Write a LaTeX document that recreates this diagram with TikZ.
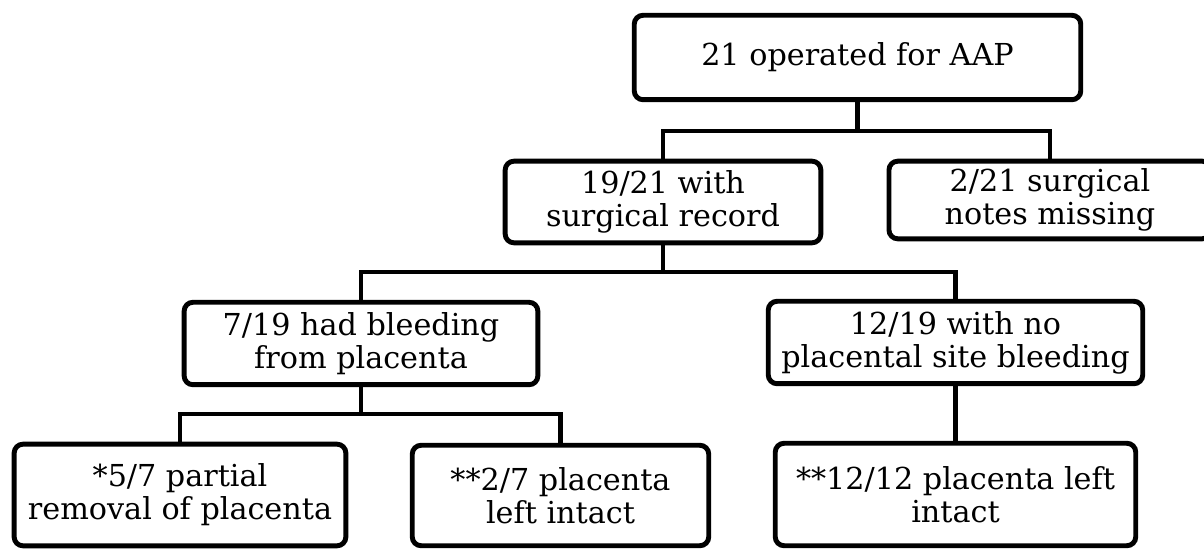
\documentclass[tikz,border=0pt]{standalone}
\usepackage{fontspec}
\setmainfont{DejaVu Serif}
\usetikzlibrary{shapes}

\begin{document}
\begin{tikzpicture}[x=0.025cm,y=-0.025cm,
  box/.style={draw,rectangle,rounded corners=0.22cm,line width=3.5pt,
    align=center,inner sep=0pt,font=\fontsize{21.5}{23.5}\selectfont},
  link/.style={line width=3.2pt}]
% Fix the frame of the picture
\useasboundingbox (0,0) rectangle (1204,550);

% Define the centres of the boxes
\path (857.5,57.5) coordinate (C0);
\path (663,202) coordinate (C1);
\path (1050,200) coordinate (C2);
\path (361,343.5) coordinate (C3);
\path (955.5,342.5) coordinate (C4);
\path (180,495) coordinate (C5);
\path (560.5,495.5) coordinate (C6);
\path (955.5,494.5) coordinate (C7);

% Draw the boxes
\node[box,minimum width=11.16cm,minimum height=2.11cm] (total) at (C0) {21 operated for AAP};
\node[box,minimum width=7.89cm,minimum height=2.04cm] (record) at (C1) {19/21 with\\surgical record};
\node[box,minimum width=8.05cm,minimum height=1.94cm] (missing) at (C2) {2/21 surgical\\notes missing};
\node[box,minimum width=8.84cm,minimum height=2.06cm] (bleed) at (C3) {7/19 had bleeding\\from placenta};
\node[box,minimum width=9.36cm,minimum height=2.06cm] (nobleed) at (C4) {12/19 with no\\placental site bleeding};
\node[box,minimum width=8.29cm,minimum height=2.54cm] (partial) at (C5) {*5/7 partial\\removal of placenta};
\node[box,minimum width=7.41cm,minimum height=2.51cm] (intact) at (C6) {**2/7 placenta\\left intact};
\node[box,minimum width=9.01cm,minimum height=2.56cm] (intactall) at (C7) {**12/12 placenta left\\intact};

% Define the branch points
\path (857.5,131) coordinate (J0);
\path (663,272) coordinate (J1);
\path (361,414) coordinate (J2);

% Draw the connectors
\draw[link] (total.south) -- (J0);
\draw[link] (record.north) |- (J0) -| (missing.north);
\draw[link] (record.south) -- (J1);
\draw[link] (bleed.north) |- (J1) -| (nobleed.north);
\draw[link] (bleed.south) -- (J2);
\draw[link] (partial.north) |- (J2) -| (intact.north);
\draw[link] (nobleed.south) -- (intactall.north);
\end{tikzpicture}
\end{document}
